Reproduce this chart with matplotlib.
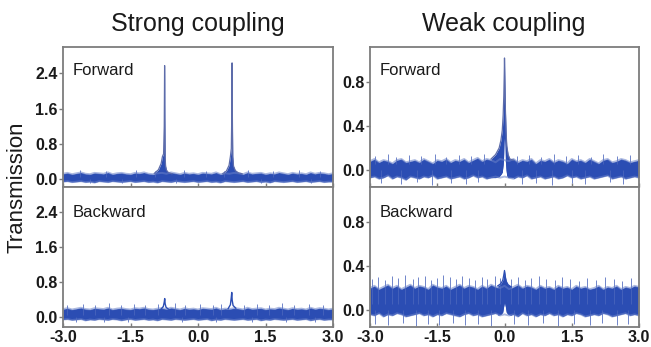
import numpy as np
import matplotlib.pyplot as plt

plt.rcParams['font.family'] = ['Liberation Sans', 'DejaVu Sans']

# detuning grid of the noise envelopes
detuning = np.linspace(-3.0, 3.0, 61)

# --- strong coupling, forward ---
sf_hi = [0.13, 0.15, 0.12, 0.14, 0.16, 0.13, 0.12, 0.15, 0.14, 0.13,
         0.16, 0.12, 0.14, 0.15, 0.13, 0.12, 0.15, 0.14, 0.16, 0.13,
         0.12, 0.14, 0.15, 0.13, 0.16, 0.14, 0.12, 0.15, 0.13, 0.14,
         0.12, 0.15, 0.14, 0.13, 0.16, 0.12, 0.14, 0.13, 0.15, 0.14,
         0.12, 0.16, 0.13, 0.14, 0.15, 0.12, 0.14, 0.13, 0.16, 0.14,
         0.12, 0.15, 0.13, 0.14, 0.12, 0.16, 0.13, 0.15, 0.14, 0.12, 0.14]
sf_lo = [-0.05, -0.04, -0.06, -0.05, -0.04, -0.06, -0.05, -0.07, -0.04, -0.05,
         -0.06, -0.04, -0.05, -0.06, -0.05, -0.04, -0.06, -0.05, -0.04, -0.06,
         -0.05, -0.07, -0.04, -0.05, -0.06, -0.04, -0.05, -0.06, -0.05, -0.04,
         -0.06, -0.05, -0.04, -0.06, -0.05, -0.07, -0.04, -0.05, -0.06, -0.05,
         -0.04, -0.06, -0.05, -0.04, -0.06, -0.05, -0.07, -0.04, -0.05, -0.06,
         -0.05, -0.04, -0.06, -0.05, -0.04, -0.06, -0.05, -0.04, -0.06, -0.05, -0.05]
sf_spikes = [(-2.62, 0.21), (-2.05, 0.19), (-1.38, 0.22), (-0.95, 0.20), (-0.32, 0.21),
             (0.18, 0.19), (0.58, 0.20), (1.12, 0.22), (1.66, 0.19), (2.24, 0.21), (2.71, 0.20)]
sf_dips = [(-2.4, -0.09), (-1.7, -0.08), (-0.5, -0.09), (1.4, -0.08), (2.5, -0.09)]
sf_peak1_x = [-0.97, -0.88, -0.82, -0.79, -0.765, -0.75, -0.742, -0.737, -0.73, -0.72, -0.70, -0.66, -0.58]
sf_peak1_y = [0.14, 0.22, 0.36, 0.52, 0.58, 1.20, 2.58, 1.40, 0.50, 0.30, 0.21, 0.16, 0.13]
sf_peak2_x = [0.55, 0.63, 0.69, 0.72, 0.74, 0.750, 0.757, 0.763, 0.772, 0.79, 0.83, 0.90, 0.98]
sf_peak2_y = [0.13, 0.19, 0.32, 0.52, 0.70, 1.40, 2.64, 1.50, 0.52, 0.30, 0.20, 0.15, 0.13]

# --- strong coupling, backward ---
sb_hi = [0.18, 0.20, 0.17, 0.19, 0.21, 0.18, 0.17, 0.20, 0.19, 0.18,
         0.21, 0.17, 0.19, 0.20, 0.18, 0.17, 0.20, 0.19, 0.21, 0.18,
         0.17, 0.19, 0.20, 0.18, 0.21, 0.19, 0.17, 0.20, 0.18, 0.19,
         0.17, 0.20, 0.19, 0.18, 0.21, 0.17, 0.19, 0.18, 0.20, 0.19,
         0.17, 0.21, 0.18, 0.19, 0.20, 0.17, 0.19, 0.18, 0.21, 0.19,
         0.17, 0.20, 0.18, 0.19, 0.17, 0.21, 0.18, 0.20, 0.19, 0.17, 0.19]
sb_lo = [-0.06, -0.05, -0.07, -0.06, -0.05, -0.08, -0.06, -0.07, -0.05, -0.06,
         -0.07, -0.05, -0.06, -0.08, -0.06, -0.05, -0.07, -0.06, -0.05, -0.07,
         -0.06, -0.08, -0.05, -0.06, -0.07, -0.05, -0.06, -0.07, -0.06, -0.05,
         -0.07, -0.06, -0.05, -0.08, -0.06, -0.07, -0.05, -0.06, -0.07, -0.06,
         -0.05, -0.07, -0.06, -0.05, -0.08, -0.06, -0.07, -0.05, -0.06, -0.07,
         -0.06, -0.05, -0.07, -0.06, -0.05, -0.08, -0.06, -0.05, -0.07, -0.06, -0.06]
sb_spikes = [(-2.91, 0.28), (-2.55, 0.30), (-2.30, 0.27), (-1.97, 0.31), (-1.71, 0.28),
             (-1.42, 0.30), (-1.18, 0.27), (-0.90, 0.29), (-0.52, 0.31), (-0.28, 0.27),
             (0.05, 0.29), (0.33, 0.28), (0.52, 0.30), (1.02, 0.27), (1.31, 0.30),
             (1.58, 0.28), (1.86, 0.31), (2.14, 0.27), (2.47, 0.29), (2.78, 0.28)]
sb_dips = [(-2.7, -0.12), (-2.1, -0.11), (-1.55, -0.12), (-0.35, -0.11), (0.4, -0.12),
           (1.2, -0.11), (1.95, -0.12), (2.6, -0.11)]
sb_peak1_x = [-0.82, -0.77, -0.75, -0.74, -0.73, -0.71, -0.66]
sb_peak1_y = [0.18, 0.24, 0.34, 0.42, 0.30, 0.22, 0.18]
sb_peak2_x = [0.67, 0.72, 0.74, 0.75, 0.76, 0.78, 0.84]
sb_peak2_y = [0.19, 0.28, 0.45, 0.56, 0.38, 0.26, 0.20]

# --- weak coupling, forward ---
wf_hi = [0.08, 0.10, 0.07, 0.09, 0.08, 0.06, 0.09, 0.10, 0.07, 0.08,
         0.09, 0.07, 0.10, 0.08, 0.06, 0.09, 0.08, 0.10, 0.07, 0.09,
         0.08, 0.10, 0.07, 0.09, 0.11, 0.08, 0.10, 0.09, 0.07, 0.10,
         0.09, 0.08, 0.10, 0.07, 0.09, 0.08, 0.10, 0.06, 0.09, 0.08,
         0.10, 0.07, 0.09, 0.08, 0.06, 0.10, 0.08, 0.09, 0.07, 0.10,
         0.08, 0.06, 0.09, 0.10, 0.07, 0.08, 0.10, 0.09, 0.07, 0.08, 0.09]
wf_lo = [-0.07, -0.06, -0.08, -0.07, -0.05, -0.08, -0.06, -0.07, -0.09, -0.06,
         -0.07, -0.08, -0.06, -0.07, -0.05, -0.08, -0.07, -0.06, -0.08, -0.07,
         -0.06, -0.08, -0.07, -0.05, -0.07, -0.06, -0.08, -0.07, -0.06, -0.07,
         -0.06, -0.07, -0.08, -0.06, -0.07, -0.05, -0.08, -0.07, -0.06, -0.08,
         -0.07, -0.06, -0.08, -0.07, -0.05, -0.07, -0.06, -0.08, -0.07, -0.06,
         -0.08, -0.07, -0.06, -0.05, -0.08, -0.07, -0.06, -0.08, -0.07, -0.06, -0.07]
wf_spikes = [(-2.88, 0.13), (-2.60, 0.15), (-2.41, 0.12), (-2.12, 0.14), (-1.86, 0.13),
             (-1.55, 0.15), (-1.30, 0.12), (-1.02, 0.14), (-0.74, 0.13), (-0.45, 0.15),
             (0.28, 0.13), (0.55, 0.14), (0.82, 0.12), (1.10, 0.15), (1.38, 0.13),
             (1.63, 0.14), (1.94, 0.12), (2.20, 0.15), (2.52, 0.13), (2.80, 0.14)]
wf_dips = [(-2.75, -0.12), (-2.30, -0.13), (-1.95, -0.11), (-1.62, -0.14), (-1.20, -0.12),
           (-0.85, -0.13), (-0.60, -0.11), (0.40, -0.13), (0.70, -0.12), (1.05, -0.14),
           (1.50, -0.12), (1.80, -0.13), (2.35, -0.11), (2.65, -0.13)]
wf_peak_x = [-0.30, -0.20, -0.12, -0.08, -0.05, -0.03, -0.015, -0.005, 0.0, 0.008, 0.02, 0.035, 0.05, 0.08, 0.12, 0.20]
wf_peak_hi = [0.10, 0.14, 0.20, 0.27, 0.36, 0.50, 0.68, 0.88, 1.02, 0.82, 0.55, 0.35, 0.22, 0.14, 0.10, 0.09]
wf_peak_lo = [-0.07, -0.07, -0.06, -0.04, -0.02, 0.05, 0.15, 0.26, 0.29, 0.22, 0.08, 0.0, -0.05, -0.07, -0.07, -0.07]

# --- weak coupling, backward ---
wb_hi = [0.20, 0.22, 0.19, 0.21, 0.23, 0.20, 0.22, 0.19, 0.21, 0.23,
         0.20, 0.22, 0.21, 0.19, 0.23, 0.21, 0.20, 0.22, 0.19, 0.21,
         0.23, 0.20, 0.22, 0.21, 0.19, 0.22, 0.20, 0.23, 0.21, 0.20,
         0.22, 0.19, 0.21, 0.23, 0.20, 0.22, 0.21, 0.19, 0.22, 0.20,
         0.21, 0.19, 0.22, 0.20, 0.21, 0.19, 0.22, 0.20, 0.21, 0.19,
         0.20, 0.22, 0.19, 0.21, 0.20, 0.22, 0.19, 0.21, 0.20, 0.22, 0.21]
wb_lo = [-0.04, -0.05, -0.03, -0.06, -0.04, -0.05, -0.03, -0.04, -0.06, -0.05,
         -0.04, -0.03, -0.05, -0.04, -0.06, -0.04, -0.05, -0.03, -0.04, -0.05,
         -0.06, -0.04, -0.03, -0.05, -0.04, -0.06, -0.05, -0.04, -0.03, -0.05,
         -0.04, -0.05, -0.04, -0.06, -0.03, -0.05, -0.04, -0.06, -0.04, -0.05,
         -0.03, -0.05, -0.04, -0.06, -0.04, -0.05, -0.03, -0.04, -0.06, -0.05,
         -0.04, -0.05, -0.03, -0.04, -0.06, -0.05, -0.04, -0.03, -0.05, -0.04, -0.05]
wb_spikes = [(-2.95, 0.28), (-2.82, 0.30), (-2.66, 0.27), (-2.50, 0.31), (-2.38, 0.29),
             (-2.21, 0.32), (-2.05, 0.28), (-1.92, 0.30), (-1.78, 0.31), (-1.63, 0.27),
             (-1.51, 0.29), (-1.37, 0.32), (-1.22, 0.30), (-1.08, 0.28), (-0.95, 0.31),
             (-0.80, 0.29), (-0.66, 0.27), (-0.51, 0.30), (-0.38, 0.28), (-0.22, 0.31),
             (-0.10, 0.29), (0.15, 0.28), (0.30, 0.30), (0.46, 0.27), (0.60, 0.29),
             (0.77, 0.31), (0.93, 0.28), (1.12, 0.27), (1.28, 0.30), (1.47, 0.28),
             (1.66, 0.26), (1.85, 0.29), (2.03, 0.27), (2.25, 0.30), (2.44, 0.28),
             (2.63, 0.26), (2.82, 0.29)]
wb_dips = [(-2.88, -0.13), (-2.60, -0.14), (-2.27, -0.12), (-1.98, -0.15), (-1.70, -0.13),
           (-1.45, -0.14), (-1.15, -0.12), (-0.88, -0.14), (-0.58, -0.13), (-0.30, -0.15),
           (0.22, -0.13), (0.52, -0.14), (0.85, -0.12), (1.20, -0.15), (1.55, -0.13),
           (1.90, -0.14), (2.18, -0.12), (2.50, -0.14), (2.75, -0.13)]
wb_peak_x = [-0.15, -0.08, -0.04, -0.02, 0.0, 0.02, 0.04, 0.08, 0.15]
wb_peak_hi = [0.22, 0.24, 0.27, 0.31, 0.36, 0.30, 0.26, 0.23, 0.21]
wb_peak_lo = [-0.05, -0.04, -0.02, 0.03, 0.07, 0.03, -0.02, -0.04, -0.05]

BAND = '#2b4db3'
FUZZ = '#6880c8'
SPIKE = '#4b66bd'
PEAK = '#5d6caa'
FRAME = '#7d7d7d'
TEXT = '#1a1a1a'

fig = plt.figure(figsize=(6.51, 3.47), dpi=100)
W, H = 651.0, 347.0


def make_ax(x0, x1, y0, y1):
    return fig.add_axes([x0 / W, 1 - y1 / H, (x1 - x0) / W, (y1 - y0) / H])


def draw_band(ax, hi, lo, spikes, dips):
    xs, ys = zip(*spikes)
    ax.vlines(xs, 0.05, ys, color=SPIKE, lw=0.7, alpha=0.8)
    xd, yd = zip(*dips)
    ax.vlines(xd, 0.0, yd, color=SPIKE, lw=0.7, alpha=0.8)
    ax.fill_between(detuning, lo, hi, color=BAND, lw=0)
    # soft noisy edges
    ax.plot(detuning, hi, color=FUZZ, lw=1.4, alpha=0.55)
    ax.plot(detuning, lo, color=FUZZ, lw=1.4, alpha=0.55)


def style(ax, ylim, yticks, label, bottom):
    ax.set_xlim(-3.0, 3.0)
    ax.set_ylim(*ylim)
    ax.set_yticks(yticks)
    ax.set_yticklabels([f'{v:.1f}' for v in yticks], fontweight='bold')
    ax.set_xticks([-3.0, -1.5, 0.0, 1.5, 3.0])
    if bottom:
        ax.set_xticklabels(['-3.0', '-1.5', '0.0', '1.5', '3.0'], fontweight='bold')
    else:
        ax.set_xticklabels([])
    ax.tick_params(axis='y', direction='out', length=3, width=1, color=FRAME,
                   labelsize=11.5, labelcolor=TEXT, pad=1)
    ax.tick_params(axis='x', direction='in', length=3, width=1, color=FRAME,
                   labelsize=11.5, labelcolor=TEXT, pad=2)
    for s in ax.spines.values():
        s.set_color(FRAME)
        s.set_linewidth(1.3)
    ax.text(0.037, 0.80 if not bottom else 0.785, label, transform=ax.transAxes,
            fontsize=12, color=TEXT, ha='left', va='baseline')


# strong forward
ax = make_ax(63, 333, 47, 187)
draw_band(ax, sf_hi, sf_lo, sf_spikes, sf_dips)
for px, py in [(sf_peak1_x, sf_peak1_y), (sf_peak2_x, sf_peak2_y)]:
    ax.fill_between(px, 0.02, py, color=BAND, lw=0)
    ax.plot(px, py, color=PEAK, lw=0.9)
style(ax, (-0.17, 3.0), [0.0, 0.8, 1.6, 2.4], 'Forward', False)

# strong backward
ax = make_ax(63, 333, 187, 327)
draw_band(ax, sb_hi, sb_lo, sb_spikes, sb_dips)
for px, py in [(sb_peak1_x, sb_peak1_y), (sb_peak2_x, sb_peak2_y)]:
    ax.plot(px, py, color=BAND, lw=1.0)
style(ax, (-0.23, 2.97), [0.0, 0.8, 1.6, 2.4], 'Backward', True)

# weak forward
ax = make_ax(370, 639, 47, 187)
draw_band(ax, wf_hi, wf_lo, wf_spikes, wf_dips)
ax.fill_between(wf_peak_x, -0.2, wf_peak_lo, color='white', lw=0)
ax.fill_between(wf_peak_x, wf_peak_lo, wf_peak_hi, color=BAND, lw=0)
ax.plot(wf_peak_x, wf_peak_hi, color=PEAK, lw=0.9)
style(ax, (-0.155, 1.12), [0.0, 0.4, 0.8], 'Forward', False)

# weak backward
ax = make_ax(370, 639, 187, 327)
draw_band(ax, wb_hi, wb_lo, wb_spikes, wb_dips)
ax.fill_between(wb_peak_x, -0.2, wb_peak_lo, color='white', lw=0)
ax.fill_between(wb_peak_x, wb_peak_lo, wb_peak_hi, color=BAND, lw=0)
ax.plot(wb_peak_x, wb_peak_hi, color=BAND, lw=0.9)
style(ax, (-0.155, 1.12), [0.0, 0.4, 0.8], 'Backward', True)

fig.text(198 / W, 1 - 31 / H, 'Strong coupling', fontsize=18, ha='center',
         va='baseline', color=TEXT)
fig.text(504 / W, 1 - 31 / H, 'Weak coupling', fontsize=18, ha='center',
         va='baseline', color=TEXT)
fig.text(17 / W, 1 - 187 / H, 'Transmission', fontsize=16, rotation=90,
         ha='center', va='center', color=TEXT)

fig.savefig('out.png', dpi=100)
